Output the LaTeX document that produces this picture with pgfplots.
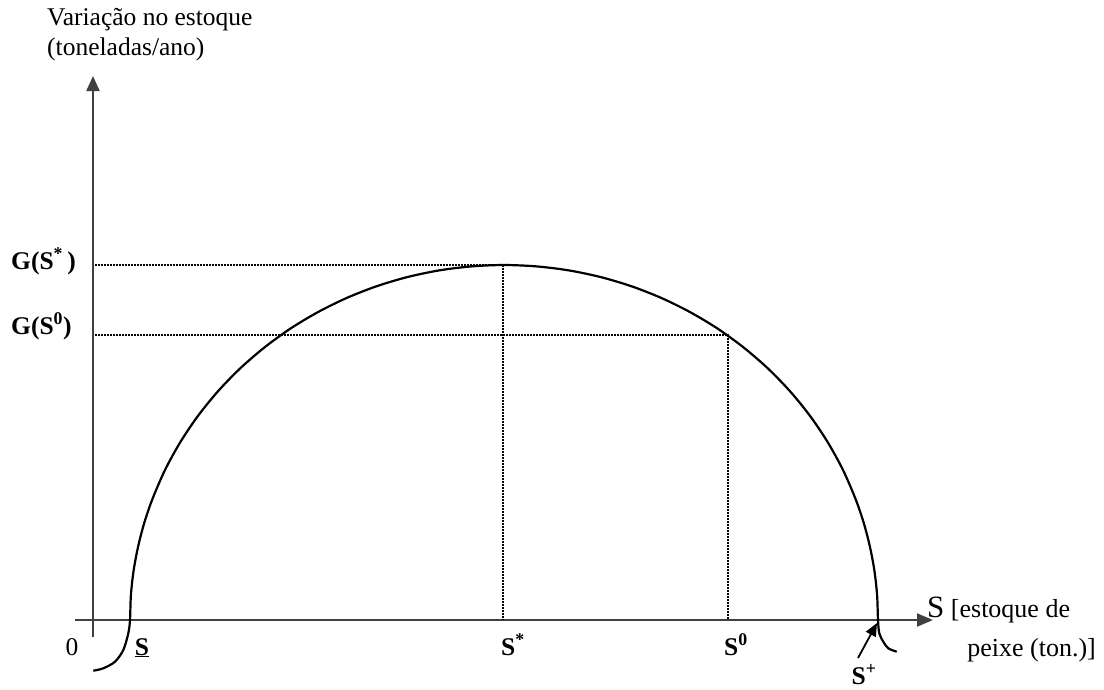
\documentclass[border=0pt]{standalone}
\usepackage{pgfplots}
\pgfplotsset{compat=1.18}
\usepackage{fontspec}
\setmainfont{Liberation Serif}
\usetikzlibrary{arrows.meta}
\begin{document}
\begin{tikzpicture}
\begin{axis}[
  width=1104pt, height=689pt, scale only axis,
  xmin=0, xmax=1104, ymin=0, ymax=689, y dir=reverse,
  hide axis, clip=false,
]
% keep the full frame as the picture's extent
\path[draw=none] (rel axis cs:0,0) rectangle (rel axis cs:1,1);

% axes
\draw[black!75, line width=2pt, -{Triangle[length=15pt,width=13pt]}] (axis cs:93,637) -- (axis cs:93,76);
\draw[black!75, line width=2pt, -{Triangle[length=16pt,width=13pt]}] (axis cs:75,620) -- (axis cs:933,620);

% growth curve
\addplot[black, line width=2.2pt, smooth, tension=0.5] coordinates {
 (93.3,670.7) (103.3,668.3) (115,661.7) (123.3,650) (128.3,633.3) (130,620)
 (130.9,595.2) (133.6,570.6) (138.2,546.2) (144.5,522.1) (152.6,498.6)
 (165.0,470.0) (180.1,442.5) (197.6,416.4) (217.5,391.8) (239.5,369.0)
 (263.6,348.1) (289.5,329.2) (317,312.6) (345.9,298.3) (376.1,286.4)
 (407.2,277.1) (439.1,270.4) (471.4,266.4) (504,265) (536.6,266.4)
 (568.9,270.4) (600.8,277.1) (631.9,286.4) (662.1,298.3) (691,312.6)
 (718.5,329.2) (744.4,348.1) (768.5,369.0) (790.5,391.8) (810.4,416.4)
 (827.9,442.5) (843.0,470.0) (855.4,498.6) (863.5,522.1) (869.8,546.2)
 (874.4,570.6) (877.1,595.2) (878,620)
 (879.3,633.3) (883.3,641.7) (888.3,648.3) (896.7,651.7)
};

% reference lines
\addplot[black, line width=1.2pt, dash pattern=on 1.8pt off 1.2pt] coordinates {(95,265) (503,265) (503,620)};
\addplot[black, line width=1.2pt, dash pattern=on 1.8pt off 1.2pt] coordinates {(95,335) (728,335) (728,620)};

% labels
\node[anchor=west, font=\fontsize{25.5}{30}\selectfont, align=left, inner sep=0pt]
  at (axis cs:47,35) {Variação no estoque\\(toneladas/ano)};
\node[anchor=base west, font=\fontsize{25.5}{28}\selectfont\bfseries, inner sep=0pt]
  at (axis cs:11,269) {G(S\textsuperscript{*}\,)};
\node[anchor=base west, font=\fontsize{25.5}{28}\selectfont\bfseries, inner sep=0pt]
  at (axis cs:11,334) {G(S\textsuperscript{0})};
\node[anchor=base, font=\fontsize{25.5}{28}\selectfont, inner sep=0pt]
  at (axis cs:72,655) {0};
\node[anchor=base, font=\fontsize{25.5}{28}\selectfont\bfseries, inner sep=0pt]
  at (axis cs:142,655) {\underline{S}};
\node[anchor=base, font=\fontsize{25.5}{28}\selectfont\bfseries, inner sep=0pt]
  at (axis cs:513,655) {S\textsuperscript{*}};
\node[anchor=base, font=\fontsize{25.5}{28}\selectfont\bfseries, inner sep=0pt]
  at (axis cs:736,655) {S\textsuperscript{0}};
\node[anchor=base, font=\fontsize{25.5}{28}\selectfont\bfseries, inner sep=0pt]
  at (axis cs:864,684) {S\textsuperscript{+}};
\draw[black, line width=1.8pt, -{Triangle[length=13pt,width=11pt]}] (axis cs:858,658) -- (axis cs:877,623);
\node[anchor=base west, font=\fontsize{26}{28}\selectfont, inner sep=0pt]
  at (axis cs:927,617) {{\fontsize{31}{32}\selectfont S} [estoque de};
\node[anchor=base east, font=\fontsize{26}{28}\selectfont, inner sep=0pt]
  at (axis cs:1096,656) {peixe (ton.)]};
\end{axis}
\end{tikzpicture}
\end{document}
